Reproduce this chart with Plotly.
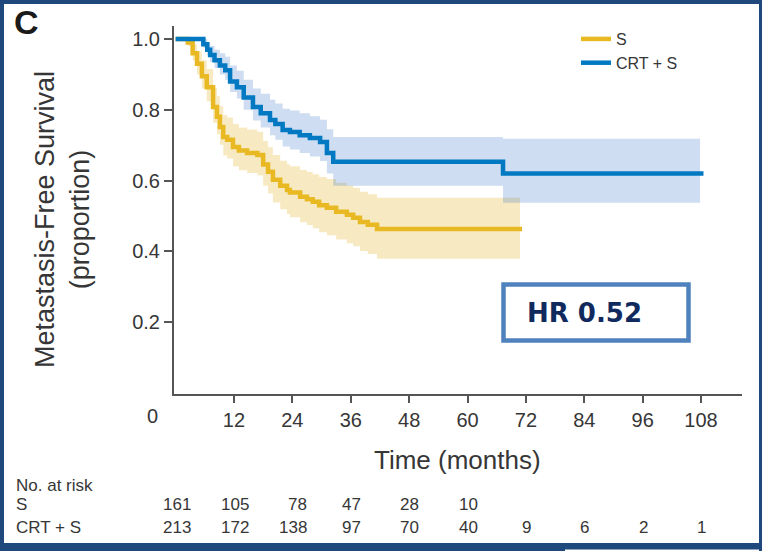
import plotly.graph_objects as go

# ---------------- data ----------------
s_time = [0, 2.5, 3.5, 4.4, 5.4, 6.4, 7.7, 8.5, 9.1, 9.8, 10.6, 11.8, 13, 14.7, 16.8, 18, 19, 20,
          21.5, 22.9, 23.5, 25.6, 27, 28.2, 29.5, 31.1, 33, 35.2, 36.5, 37.9, 39.5, 41.4, 71.2]
s_surv = [1.0, 0.99, 0.96, 0.93, 0.895, 0.864, 0.808, 0.78, 0.751, 0.723, 0.715, 0.695, 0.685, 0.678,
          0.672, 0.645, 0.625, 0.602, 0.585, 0.573, 0.566, 0.554, 0.547, 0.54, 0.53, 0.523, 0.512,
          0.503, 0.495, 0.483, 0.475, 0.463, 0.463]
s_ci_time = s_time[:-1] + [70.8]
s_lower = [1.0, 0.98, 0.94, 0.90, 0.86, 0.824, 0.763, 0.73, 0.701, 0.671, 0.662, 0.64, 0.629, 0.621,
           0.614, 0.585, 0.563, 0.538, 0.519, 0.505, 0.496, 0.482, 0.474, 0.465, 0.454, 0.445, 0.433,
           0.423, 0.414, 0.401, 0.392, 0.379, 0.379]
s_upper = [1.0, 1.0, 0.985, 0.965, 0.94, 0.915, 0.862, 0.838, 0.81, 0.785, 0.778, 0.76, 0.75, 0.744,
           0.738, 0.712, 0.694, 0.672, 0.656, 0.646, 0.64, 0.63, 0.624, 0.618, 0.61, 0.604, 0.594,
           0.586, 0.579, 0.568, 0.561, 0.551, 0.551]

c_time = [0, 5.7, 6.5, 7.1, 8.0, 9.1, 10.2, 11.2, 12.6, 14, 15.9, 17.5, 19.4, 20.5, 22, 23.5, 25.5,
          27.6, 29.7, 31.1, 32.4, 67.3, 108.5]
c_surv = [1.0, 0.985, 0.97, 0.955, 0.94, 0.925, 0.912, 0.88, 0.864, 0.835, 0.808, 0.79, 0.771, 0.76,
          0.743, 0.737, 0.728, 0.72, 0.709, 0.678, 0.653, 0.62, 0.62]
c_ci_time = c_time[:-1] + [107.8]
c_lower = [1.0, 0.975, 0.955, 0.935, 0.918, 0.9, 0.885, 0.85, 0.832, 0.8, 0.77, 0.75, 0.728, 0.715,
           0.696, 0.688, 0.678, 0.668, 0.655, 0.62, 0.585, 0.537, 0.537]
c_upper = [1.0, 1.0, 0.99, 0.98, 0.97, 0.96, 0.95, 0.925, 0.91, 0.885, 0.86, 0.845, 0.828, 0.818,
           0.803, 0.798, 0.79, 0.782, 0.772, 0.745, 0.723, 0.718, 0.718]

x_ticks = [12, 24, 36, 48, 60, 72, 84, 96, 108]
y_ticks = [0.2, 0.4, 0.6, 0.8, 1.0]
y_ticktext = ["0.2", "0.4", "0.6", "0.8", "1.0"]

risk_times = [0, 12, 24, 36, 48, 60, 72, 84, 96, 108]
risk_s = [161, 105, 78, 47, 28, 10, None, None, None, None]
risk_crt = [213, 172, 138, 97, 70, 40, 9, 6, 2, 1]

hr_text = "HR 0.52"

# ---------------- styling ----------------
GOLD = "#E8B923"
BLUE = "#0079C2"
GOLD_BAND = "rgba(228,178,40,0.28)"
BLUE_BAND = "rgba(60,120,200,0.25)"
FRAME = "#1F497D"
TXT = "#363636"
FONT = "Liberation Sans, Arial, sans-serif"

W, H = 762, 551
L, R, T, B = 174, 20, 26, 157
PW, PH = W - L - R, H - T - B


def xp(px):
    return (px - L) / PW


def yp(py):
    return (H - B - py) / PH


fig = go.Figure()

# confidence bands
fig.add_trace(go.Scatter(x=s_ci_time, y=s_lower, mode="lines", line=dict(width=0, shape="hv"),
                         showlegend=False, hoverinfo="skip"))
fig.add_trace(go.Scatter(x=s_ci_time, y=s_upper, mode="lines", line=dict(width=0, shape="hv"),
                         fill="tonexty", fillcolor=GOLD_BAND, showlegend=False, hoverinfo="skip"))
fig.add_trace(go.Scatter(x=c_ci_time, y=c_lower, mode="lines", line=dict(width=0, shape="hv"),
                         showlegend=False, hoverinfo="skip"))
fig.add_trace(go.Scatter(x=c_ci_time, y=c_upper, mode="lines", line=dict(width=0, shape="hv"),
                         fill="tonexty", fillcolor=BLUE_BAND, showlegend=False, hoverinfo="skip"))

# KM curves
fig.add_trace(go.Scatter(x=s_time, y=s_surv, mode="lines", name="S",
                         line=dict(color=GOLD, width=4.5, shape="hv")))
fig.add_trace(go.Scatter(x=c_time, y=c_surv, mode="lines", name="CRT + S",
                         line=dict(color=BLUE, width=4.5, shape="hv")))

x0, x1 = -0.33, 116.42
y0, y1 = -0.0035, 1.0368

fig.update_xaxes(range=[x0, x1], tickvals=x_ticks, ticks="outside", ticklen=7, tickwidth=2,
                 tickcolor="#555555", showline=True, linecolor="#555555", linewidth=2,
                 showgrid=False, zeroline=False, tickfont=dict(family=FONT, size=20, color=TXT))
fig.update_yaxes(range=[y0, y1], tickvals=y_ticks, ticktext=y_ticktext, ticks="outside", ticklen=8,
                 tickwidth=2, tickcolor="#555555", showline=True, linecolor="#555555", linewidth=2,
                 showgrid=False, zeroline=False, tickfont=dict(family=FONT, size=20, color=TXT))

ann = []
# panel letter
ann.append(dict(x=xp(12), y=yp(22), xref="paper", yref="paper", text="<b>C</b>", showarrow=False,
                xanchor="left", yanchor="middle", font=dict(family=FONT, size=34, color="#1a1a1a")))
# "0" label at origin
ann.append(dict(x=0, y=yp(415.5), xref="x", yref="paper", xshift=-23, text="0", showarrow=False,
                xanchor="center", yanchor="middle", font=dict(family=FONT, size=20, color=TXT)))
# axis titles
ann.append(dict(x=xp(457), y=yp(460), xref="paper", yref="paper", text="Time (months)",
                showarrow=False, xanchor="center", yanchor="middle",
                font=dict(family=FONT, size=26, color=TXT)))
ann.append(dict(x=xp(62), y=yp(220), xref="paper", yref="paper",
                text="Metastasis-Free Survival<br>(proportion)", textangle=-90,
                showarrow=False, xanchor="center", yanchor="middle",
                font=dict(family=FONT, size=27, color=TXT)))
# HR box text
ann.append(dict(x=xp(525), y=yp(313), xref="paper", yref="paper", text="<b>" + hr_text + "</b>",
                showarrow=False, xanchor="left", yanchor="middle",
                font=dict(family="DejaVu Sans, Verdana, sans-serif", size=26, color="#112A5E")))
# risk table
RT = 17
ann.append(dict(x=xp(15), y=yp(485.5), xref="paper", yref="paper", text="No. at risk",
                showarrow=False, xanchor="left", yanchor="middle", borderpad=0,
                font=dict(family=FONT, size=RT, color=TXT)))
ann.append(dict(x=xp(15), y=yp(504.5), xref="paper", yref="paper", text="S",
                showarrow=False, xanchor="left", yanchor="middle", borderpad=0,
                font=dict(family=FONT, size=RT, color=TXT)))
ann.append(dict(x=xp(15), y=yp(527.5), xref="paper", yref="paper", text="CRT + S",
                showarrow=False, xanchor="left", yanchor="middle", borderpad=0,
                font=dict(family=FONT, size=RT, color=TXT)))
for t, a, b in zip(risk_times, risk_s, risk_crt):
    digits = max(len(str(v)) for v in (a, b) if v is not None)
    shift = digits * 5.0 + 1.0
    for v, py in ((a, 504.5), (b, 527.5)):
        if v is None:
            continue
        ann.append(dict(x=t, y=yp(py), xref="x", yref="paper", xshift=shift, text=str(v),
                        showarrow=False, xanchor="right", yanchor="middle", borderpad=0,
                        font=dict(family=FONT, size=RT, color=TXT)))

shapes = []
# HR box
shapes.append(dict(type="rect", xref="paper", yref="paper", x0=xp(503.5), x1=xp(688.5),
                   y0=yp(340.5), y1=yp(284.5), line=dict(color="#4F81BD", width=4.5),
                   fillcolor="rgba(0,0,0,0)", layer="above"))
# frame around the picture
for (a0, a1, b0, b1) in [(0, W, 0, 4), (0, 4, 0, H), (759, W, 0, H), (0, 565, 543, H),
                         (565, W, 543, 549.5)]:
    shapes.append(dict(type="rect", xref="paper", yref="paper", x0=xp(a0), x1=xp(a1),
                       y0=yp(b1), y1=yp(b0), line=dict(width=0), fillcolor=FRAME, layer="above"))

fig.update_layout(
    width=W, height=H, margin=dict(l=L, r=R, t=T, b=B, pad=0),
    paper_bgcolor="white", plot_bgcolor="white",
    showlegend=True,
    legend=dict(x=xp(576), y=yp(22), xanchor="left", yanchor="top", bgcolor="rgba(0,0,0,0)",
                font=dict(family=FONT, size=16, color=TXT), tracegroupgap=0, itemwidth=30,
                borderwidth=0, traceorder="normal"),
    annotations=ann, shapes=shapes,
)

fig.write_html("out.html")
